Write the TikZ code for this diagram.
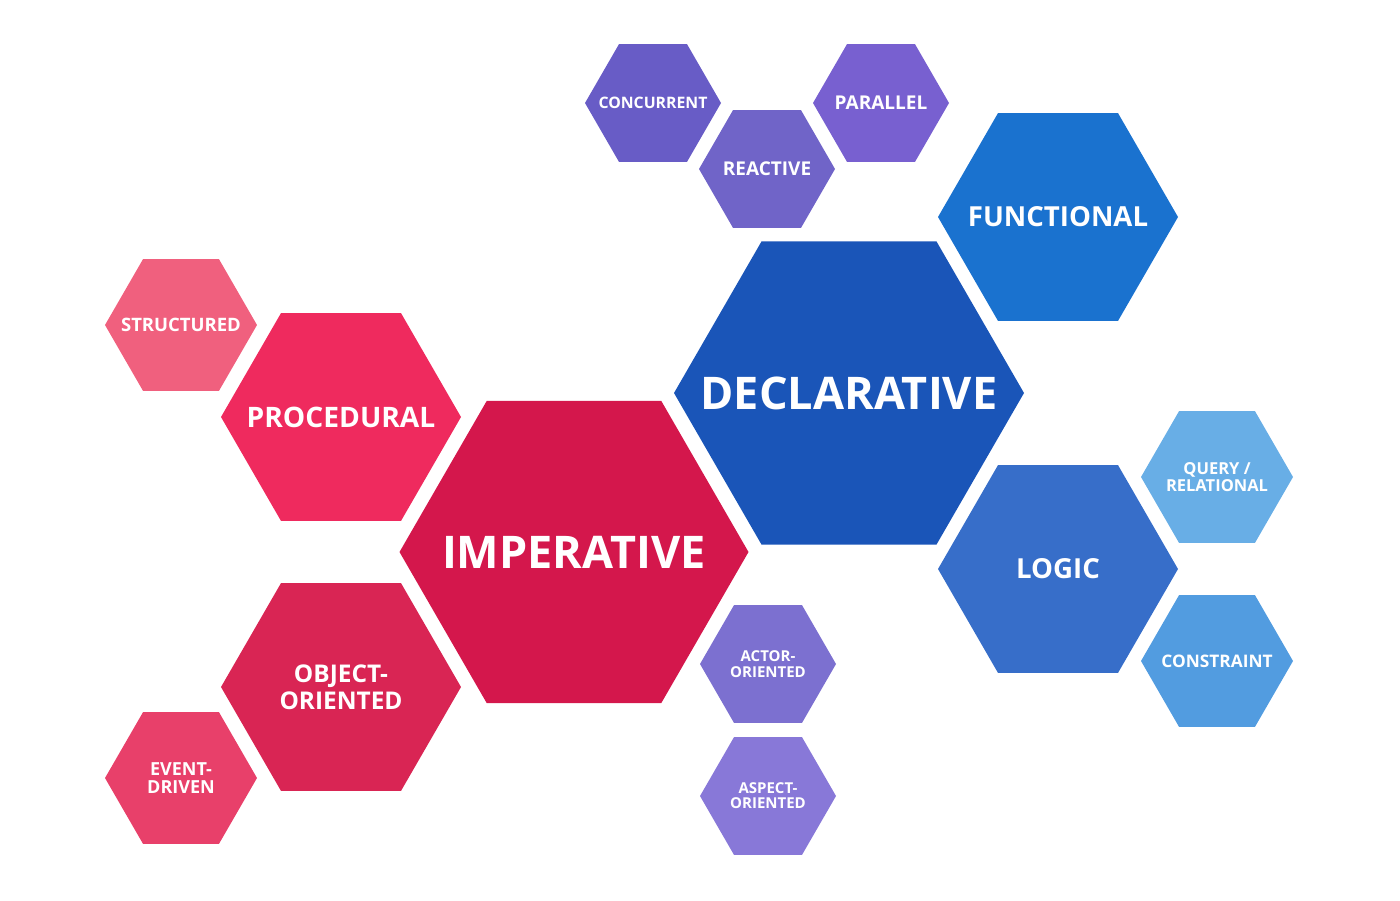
\documentclass[tikz,border=0pt]{standalone}
\usepackage{fontspec}
\setmainfont{Open Sans}
\usepackage{tikz}

\definecolor{cImp}{HTML}{D4174C}
\definecolor{cPro}{HTML}{EF2A5E}
\definecolor{cObj}{HTML}{D92554}
\definecolor{cStr}{HTML}{F0607E}
\definecolor{cEvt}{HTML}{E8406A}
\definecolor{cDec}{HTML}{1A55B8}
\definecolor{cFun}{HTML}{1A72CF}
\definecolor{cLog}{HTML}{376EC9}
\definecolor{cQry}{HTML}{68AEE6}
\definecolor{cCst}{HTML}{529CE0}
\definecolor{cCon}{HTML}{685CC6}
\definecolor{cRea}{HTML}{7064C8}
\definecolor{cPar}{HTML}{7860D0}
\definecolor{cAct}{HTML}{7C70D0}
\definecolor{cAsp}{HTML}{8878D8}

\begin{document}
\begin{tikzpicture}[x=1pt,y=-1pt,
  cell/.style={text=white,align=center,inner sep=0pt}]
\useasboundingbox (0,0) rectangle (1400,900);
\foreach \nm/\cx/\cy/\rr/\cc/\fs/\ls/\tx in {
  imp/574/552/174.5/cImp/45/45/IMPERATIVE,
  dec/849/393/175/cDec/45/45/DECLARATIVE,
  fun/1058/217/120/cFun/27.6/28/FUNCTIONAL,
  log/1058/569/120/cLog/27.6/28/LOGIC,
  pro/341/417/120/cPro/28.2/28/PROCEDURAL,
  obj/341/687/120/cObj/24.4/27/{OBJECT-\\ORIENTED},
  str/181/325/76/cStr/18.5/18/STRUCTURED,
  evt/181/778/76/cEvt/18/18/{EVENT-\\DRIVEN},
  con/653/103/68/cCon/15.8/17/CONCURRENT,
  par/881/103/68/cPar/19/17/PARALLEL,
  rea/767/169/68/cRea/19/17/REACTIVE,
  qry/1217/477/76/cQry/16.5/16.5/{QUERY /\\RELATIONAL},
  cst/1217/661/76/cCst/17.3/17/CONSTRAINT,
  act/768/664/68/cAct/15/15.5/{ACTOR-\\ORIENTED},
  asp/768/796/68/cAsp/15/15/{ASPECT-\\ORIENTED}}
{
  % hexagon, flat top and bottom
  \fill[\cc] (\cx,\cy) +(0:\rr) -- +(60:\rr) -- +(120:\rr) -- +(180:\rr)
    -- +(240:\rr) -- +(300:\rr) -- cycle;
  \node[cell,font=\bfseries\fontsize{\fs}{\ls}\selectfont] (\nm) at (\cx,\cy) {\tx};
}
\end{tikzpicture}
\end{document}
